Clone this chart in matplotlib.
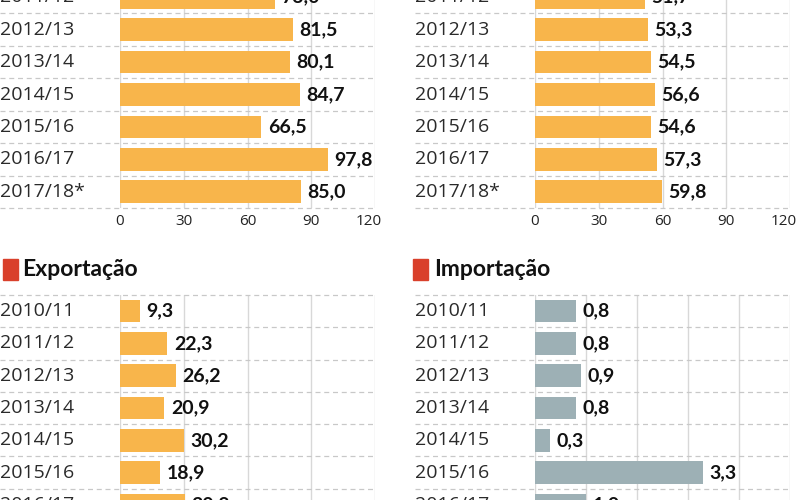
import matplotlib
matplotlib.use('Agg')
import matplotlib.pyplot as plt
from matplotlib.patches import Rectangle
from matplotlib.transforms import ScaledTranslation

# ── Data (visible part of the infographic) ──
top_years = ['2011/12', '2012/13', '2013/14', '2014/15', '2015/16', '2016/17', '2017/18*']
top_left_vals = [73.0, 81.5, 80.1, 84.7, 66.5, 97.8, 85.0]
top_right_vals = [51.7, 53.3, 54.5, 56.6, 54.6, 57.3, 59.8]

bottom_years = ['2010/11', '2011/12', '2012/13', '2013/14', '2014/15', '2015/16', '2016/17']
export_vals = [9.3, 22.3, 26.2, 20.9, 30.2, 18.9, 30.8]
import_vals = [0.8, 0.8, 0.9, 0.8, 0.3, 3.3, 1.0]

big_ticks = [0, 30, 60, 90, 120]
small_ticks = [0, 1, 2, 3, 4, 5]

ORANGE = '#F8B54B'
GREYBLUE = '#9DB0B5'
RED = '#D9402B'
W, H = 800, 500


def px_axes(x0, y0, x1, y1):
    """Axes placed by pixel box (top-left origin)."""
    return fig.add_axes([x0 / W, 1 - y1 / H, (x1 - x0) / W, (y1 - y0) / H])


def panel(ax, years, vals, color, ticks):
    n = len(years)
    ax.barh(range(n), vals, height=0.7, color=color, zorder=2)
    ax.set_xlim(ticks[0], ticks[-1])
    ax.set_ylim(n - 0.5, -0.5)
    ax.set_xticks(ticks)
    ax.set_xticklabels([str(t) for t in ticks], fontsize=11, color='#222222',
                       family='Open Sans')
    ax.tick_params(axis='x', length=0, pad=4)
    # last tick label is pulled inwards, as in the original layout
    last = ax.get_xticklabels()[-1]
    last.set_transform(last.get_transform() +
                       ScaledTranslation(-6 / 100, 0, fig.dpi_scale_trans))
    ax.set_yticks([])
    for s in ax.spines.values():
        s.set_visible(False)
    ax.grid(axis='x', color='#d8d8d8', linewidth=1, zorder=0)
    ax.set_axisbelow(True)
    span = ticks[-1] - ticks[0]
    for k in range(n + 1):
        ax.plot([-0.47, 1.0], [k - 0.5, k - 0.5], transform=ax.get_yaxis_transform(),
                color='#c8c8c8', linestyle=(0, (4, 3)), linewidth=0.9,
                clip_on=False, zorder=3)
    for i, (y, v) in enumerate(zip(years, vals)):
        ax.text(-0.47, i, y, transform=ax.get_yaxis_transform(), ha='left',
                va='center', fontsize=14, color='#2a2a2a', family='Open Sans')
        ax.text(v + span * 0.025, i, f'{v:.1f}'.replace('.', ','), ha='left',
                va='center', fontsize=14, fontweight='bold', color='#111111',
                family='Lato')


fig = plt.figure(figsize=(8, 5), dpi=100)

# top panels (rows partially cut off at the top of the picture)
ax_tl = px_axes(120, -19, 375, 208)
panel(ax_tl, top_years, top_left_vals, ORANGE, big_ticks)
ax_tr = px_axes(535, -19, 790, 208)
panel(ax_tr, top_years, top_right_vals, ORANGE, big_ticks)

# bottom panels (cut off at the bottom of the picture)
ax_bl = px_axes(120, 295, 375, 521)
panel(ax_bl, bottom_years, export_vals, ORANGE, big_ticks)
ax_br = px_axes(535, 295, 790, 521)
panel(ax_br, bottom_years, import_vals, GREYBLUE, small_ticks)

# section titles with red squares
for x_sq, x_txt, title in [(3, 22, 'Exportação'), (413, 434, 'Importação')]:
    fig.patches.append(Rectangle((x_sq / W, 1 - 280 / H), 15 / W, 21 / H,
                                 transform=fig.transFigure, color=RED))
    fig.text(x_txt / W, 1 - 270 / H, title, ha='left', va='center',
             fontsize=16.5, fontweight='bold', color='#111111', family='Lato')

fig.savefig('out.png', dpi=100)
